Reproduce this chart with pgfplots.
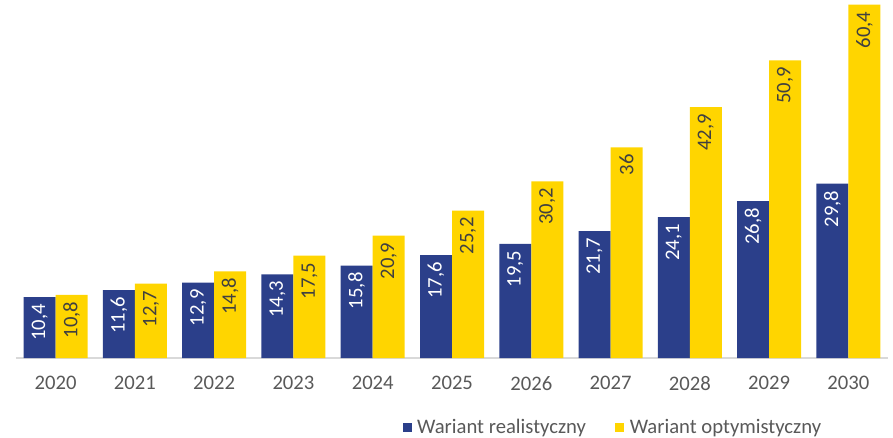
\documentclass[border=0pt]{standalone}
\usepackage{pgfplots}
\pgfplotsset{compat=1.18}
\usepackage{fontspec}
\setmainfont{Carlito}
\definecolor{realblue}{RGB}{43,63,138}
\definecolor{optyellow}{RGB}{255,213,0}
\definecolor{txtgray}{RGB}{89,89,89}
\definecolor{basegray}{RGB}{217,217,217}
\begin{document}
\begin{tikzpicture}
\path[use as bounding box] (-12pt,-59.25pt) rectangle (657.75pt,268.5pt);
\begin{axis}[
  scale only axis,
  width=654pt, height=268.5pt,
  ybar=0pt, bar width=24pt,
  xmin=-0.5, xmax=10.5,
  ymin=0, ymax=61.2,
  axis y line=none,
  axis x line*=bottom,
  axis line style={basegray, line width=1.5pt, -},
  xtick=data,
  xtick style={draw=none},
  xticklabels={2020,2021,2022,2023,2024,2025,2026,2027,2028,2029,2030},
  xticklabel style={font=\fontsize{15.5}{18}\selectfont, text=txtgray, yshift=-6pt},
  /pgf/number format/use comma,
  /pgf/number format/assume math mode=true,
  nodes near coords,
  nodes near coords style={font=\fontsize{15.5}{18}\selectfont, rotate=90, anchor=east, inner sep=5pt},
  legend style={draw=none, at={(0.685,-0.193)}, anchor=center,
    legend columns=2, font=\fontsize{15.5}{18}\selectfont, text=txtgray,
    /tikz/every odd column/.append style={column sep=2pt},
    /tikz/every even column/.append style={column sep=20pt}},
  legend image code/.code={\fill[#1,draw=none] (0pt,-3.4pt) rectangle (6.8pt,3.4pt);},
]
\addplot[fill=realblue, draw=none, nodes near coords style={text=white}] coordinates {
(0,10.4) (1,11.6) (2,12.9) (3,14.3) (4,15.8) (5,17.6) (6,19.5) (7,21.7) (8,24.1) (9,26.8) (10,29.8)};
\addplot[fill=optyellow, draw=none, nodes near coords style={text=black!75}] coordinates {
(0,10.8) (1,12.7) (2,14.8) (3,17.5) (4,20.9) (5,25.2) (6,30.2) (7,36) (8,42.9) (9,50.9) (10,60.4)};
\legend{Wariant realistyczny, Wariant optymistyczny}
\end{axis}
\end{tikzpicture}
\end{document}
